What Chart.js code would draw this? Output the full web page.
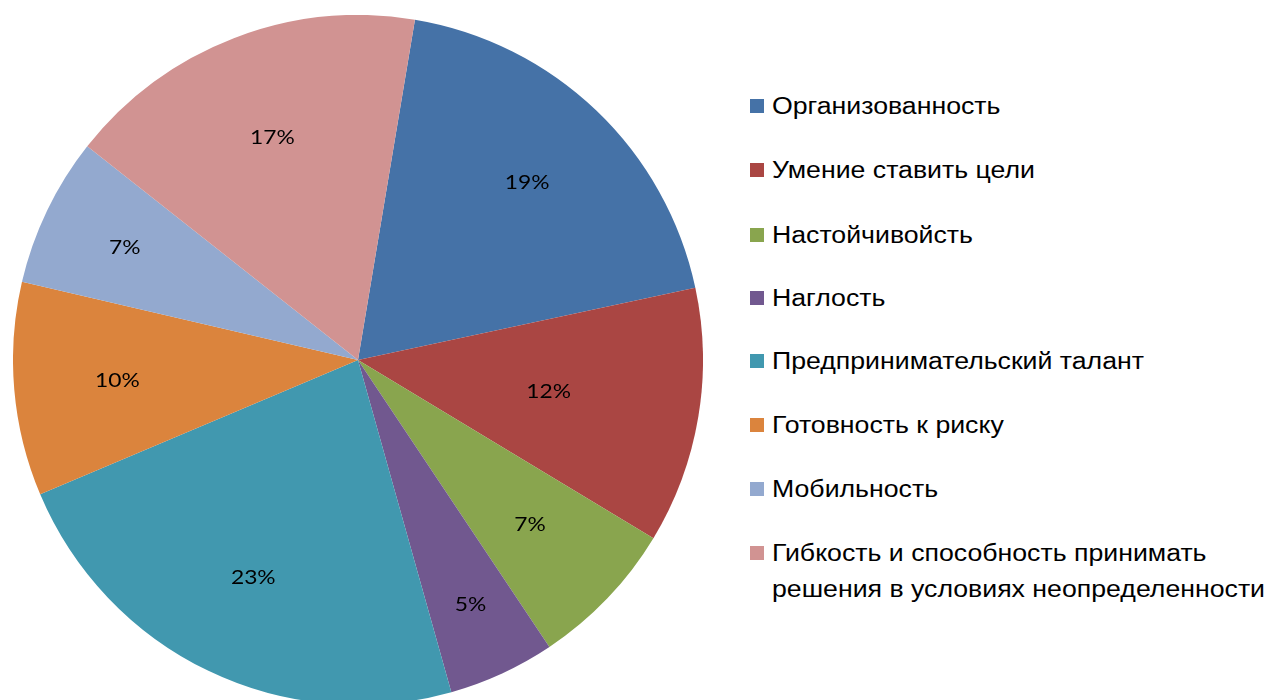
<!DOCTYPE html>
<html><head><meta charset="utf-8">
<script src="https://cdn.jsdelivr.net/npm/chart.js@4.4.1/dist/chart.umd.min.js"></script>
<style>
html,body{margin:0;padding:0;background:#fff;width:1269px;height:700px;overflow:hidden;}
#wrap{position:absolute;left:13px;top:15px;width:690px;height:690px;}
#legend{position:absolute;left:750px;top:0;font-family:"Liberation Sans",Arial,sans-serif;font-size:23px;color:#000;}
.item{position:absolute;left:0;white-space:nowrap;line-height:36px;}
.sw{position:absolute;left:0;top:11px;width:14px;height:14px;}
.tx{position:absolute;left:22px;top:0;transform:scaleX(1.16);transform-origin:0 0;}
</style></head><body>
<div id="wrap"><canvas id="c" width="690" height="690"></canvas></div>
<div id="legend"></div>
<script>
const categories = ["Организованность","Умение ставить цели","Настойчивойсть","Наглость","Предпринимательский талант","Готовность к риску","Мобильность","Гибкость и способность принимать\nрешения в условиях неопределенности"];
const values = [19,12,7,5,23,10,7,17];
const colors = ["#4572A7","#AA4643","#89A54E","#71588F","#4198AF","#DB843D","#93A9CF","#D19392"];
const labelRadii = [0.71,0.56,0.69,0.78,0.70,0.70,0.75,0.69];

const labelPlugin = {
  id:'pctLabels',
  afterDatasetsDraw(chart){
    const ctx = chart.ctx;
    const meta = chart.getDatasetMeta(0);
    const total = values.reduce((a,b)=>a+b,0);
    meta.data.forEach((arc,i)=>{
      const p = arc.getProps(['x','y','startAngle','endAngle','outerRadius'],true);
      const mid = (p.startAngle+p.endAngle)/2;
      const r = p.outerRadius*labelRadii[i];
      ctx.save();
      ctx.translate(p.x+Math.cos(mid)*r, p.y+Math.sin(mid)*r);
      ctx.scale(1.2,1);
      ctx.font = '19px Lato, "Open Sans", sans-serif';
      ctx.fillStyle = '#000';
      ctx.textAlign = 'center';
      ctx.textBaseline = 'middle';
      ctx.fillText(Math.round(values[i]/total*100)+'%', 0, 0);
      ctx.restore();
    });
  }
};

new Chart(document.getElementById('c'),{
  type:'pie',
  data:{labels:categories,datasets:[{data:values,backgroundColor:colors,borderWidth:0,hoverOffset:0}]},
  options:{responsive:false,animation:false,rotation:9.5,layout:{padding:0},
    plugins:{legend:{display:false},tooltip:{enabled:false}}},
  plugins:[labelPlugin]
});

const legend = document.getElementById('legend');
const rowTops = [88,152,217,280,343,407,471,535];
categories.forEach((c,i)=>{
  const d = document.createElement('div');
  d.className='item'; d.style.top = rowTops[i]+'px';
  d.innerHTML = '<div class="sw" style="background:'+colors[i]+'"></div><div class="tx">'+c.replace('\n','<br>')+'</div>';
  legend.appendChild(d);
});
</script>
</body></html>
